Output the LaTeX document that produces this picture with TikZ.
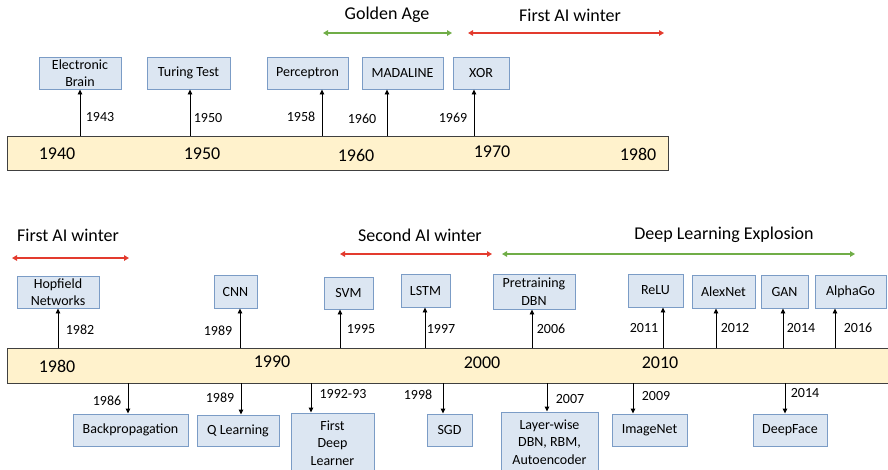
\documentclass[tikz,border=0pt]{standalone}
\usepackage{fontspec}
\setmainfont{Carlito}
\usetikzlibrary{arrows.meta}
\definecolor{boxfill}{HTML}{DCE6F2}
\definecolor{boxline}{HTML}{7B9CC6}
\definecolor{barfill}{HTML}{FFF2CC}
\definecolor{barline}{HTML}{404040}
\definecolor{agreen}{HTML}{70AD47}
\definecolor{ared}{HTML}{E33B2E}
\tikzset{
  evbox/.style={draw=boxline, fill=boxfill, line width=0.9pt, align=center, inner sep=1pt,
    font=\fontsize{14}{17.5}\selectfont, minimum height=32pt},
  barbox/.style={draw=barline, fill=barfill, line width=0.9pt, inner sep=0pt},
  baryear/.style={font=\fontsize{18}{20}\selectfont, inner sep=0pt},
  yr/.style={font=\fontsize{14}{16}\selectfont, inner sep=0pt},
  period/.style={font=\fontsize{18}{20}\selectfont, inner sep=0pt},
  evarr/.style={line width=0.9pt, -{Triangle[width=4.5pt,length=5pt]}},
  span/.style={line width=1.6pt, {Triangle[width=5.5pt,length=5pt]}-{Triangle[width=5.5pt,length=5pt]}},
}
\begin{document}
\begin{tikzpicture}[x=1pt,y=-1pt]
\useasboundingbox (0,0) rectangle (888,469);
\clip (0,0) rectangle (888,469);
% ---------- Row 1 ----------
\node[barbox, minimum width=661pt, minimum height=34pt] (bar1) at (337.5,153) {};
\node[baryear] (y1940) at (57,154) {1940};
\node[baryear] (y1950) at (202,154) {1950};
\node[baryear] (y1960) at (356,155) {1960};
\node[baryear] (y1970) at (492,152) {1970};
\node[baryear] (y1980a) at (638,154) {1980};

\node[evbox, minimum width=82pt] (eb) at (80,73) {Electronic\\Brain};
\node[evbox, minimum width=83pt] (tt) at (188.5,73) {Turing Test};
\node[evbox, minimum width=81pt] (pc) at (307.5,73) {Perceptron};
\node[evbox, minimum width=81pt] (md) at (402.5,73) {MADALINE};
\node[evbox, minimum width=56pt] (xo) at (481,73) {XOR};

\draw[evarr] (bar1.north -| 80,0) -- (eb.south -| 80,0);
\draw[evarr] (bar1.north -| 190,0) -- (tt.south -| 190,0);
\draw[evarr] (bar1.north -| 322,0) -- (pc.south -| 322,0);
\draw[evarr] (bar1.north -| 387,0) -- (md.south -| 387,0);
\draw[evarr] (bar1.north -| 474,0) -- (xo.south -| 474,0);

\node[yr] (l1943) at (100,117) {1943};
\node[yr] (l1950) at (208,118) {1950};
\node[yr] (l1958) at (301,117) {1958};
\node[yr] (l1960) at (362,119) {1960};
\node[yr] (l1969) at (453,118) {1969};

\coordinate (ga1) at (323,33);
\coordinate (ga2) at (452,33);
\draw[span, agreen] (ga1) -- (ga2);
\node[period] (gat) at (387,15) {Golden Age};
\coordinate (fw1) at (468,33);
\coordinate (fw2) at (664,33);
\draw[span, ared] (fw1) -- (fw2);
\node[period] (fwt) at (570,15) {First AI winter};

% ---------- Row 2 ----------
\node[barbox, minimum width=893pt, minimum height=35pt] (bar2) at (453.5,365.5) {};
\node[baryear] (y1980) at (57,366) {1980};
\node[baryear] (y1990) at (272,362) {1990};
\node[baryear] (y2000) at (482,363) {2000};
\node[baryear] (y2010) at (660,363) {2010};

% top events
\node[evbox, minimum width=82pt] (hn) at (58,292) {Hopfield\\Networks};
\node[evbox, minimum width=43pt, minimum height=33pt] (cnn) at (235.5,291.5) {CNN};
\node[evbox, minimum width=49pt] (svm) at (348.5,293) {SVM};
\node[evbox, minimum width=49pt, minimum height=33pt] (lstm) at (425.5,290.5) {LSTM};
\node[evbox, minimum width=82pt, minimum height=35pt] (pdbn) at (534,291.5) {Pretraining\\DBN};
\node[evbox, minimum width=55pt, minimum height=33pt] (relu) at (655.5,290.5) {ReLU};
\node[evbox, minimum width=63pt, minimum height=33pt] (alex) at (723.5,291.5) {AlexNet};
\node[evbox, minimum width=47pt, minimum height=33pt] (gan) at (784.5,291.5) {GAN};
\node[evbox, minimum width=71pt, minimum height=33pt] (alpha) at (850.5,291.5) {AlphaGo};

\draw[evarr] (bar2.north -| 58,0) -- (hn.south -| 58,0);
\draw[evarr] (bar2.north -| 240,0) -- (cnn.south -| 240,0);
\draw[evarr] (bar2.north -| 340,0) -- (svm.south -| 340,0);
\draw[evarr] (bar2.north -| 425,0) -- (lstm.south -| 425,0);
\draw[evarr] (bar2.north -| 532,0) -- (pdbn.south -| 532,0);
\draw[evarr] (bar2.north -| 663,0) -- (relu.south -| 663,0);
\draw[evarr] (bar2.north -| 716,0) -- (alex.south -| 716,0);
\draw[evarr] (bar2.north -| 783,0) -- (gan.south -| 783,0);
\draw[evarr] (bar2.north -| 835,0) -- (alpha.south -| 835,0);

\node[yr] (l1982) at (80,330) {1982};
\node[yr] (l1989a) at (218,331) {1989};
\node[yr] (l1995) at (361,329) {1995};
\node[yr] (l1997) at (441,329) {1997};
\node[yr] (l2006) at (551,329) {2006};
\node[yr] (l2011) at (644,328) {2011};
\node[yr] (l2012) at (735,328) {2012};
\node[yr] (l2014a) at (801,328) {2014};
\node[yr] (l2016) at (858,328) {2016};

% bottom events
\node[evbox, minimum width=115pt] (bp) at (130.5,430) {Backpropagation};
\node[evbox, minimum width=82pt, minimum height=31pt] (ql) at (238,430.5) {Q Learning};
\node[evbox, minimum width=83pt, minimum height=60pt] (fdl) at (332.5,443) {First\\Deep\\Learner};
\node[evbox, minimum width=45pt] (sgd) at (449.5,430) {SGD};
\node[evbox, minimum width=97pt, minimum height=60pt] (lw) at (549.5,442) {Layer-wise\\DBN, RBM,\\Autoencoder};
\node[evbox, minimum width=75pt] (img) at (649.5,430) {ImageNet};
\node[evbox, minimum width=74pt] (df) at (790,430) {DeepFace};

\draw[evarr] (bar2.south -| 128,0) -- (bp.north -| 128,0);
\draw[evarr] (bar2.south -| 241,0) -- (ql.north -| 241,0);
\draw[evarr] (bar2.south -| 311,0) -- (fdl.north -| 311,0);
\draw[evarr] (bar2.south -| 443,0) -- (sgd.north -| 443,0);
\draw[evarr] (bar2.south -| 547,0) -- (lw.north -| 547,0);
\draw[evarr] (bar2.south -| 633,0) -- (img.north -| 633,0);
\draw[evarr] (bar2.south -| 785,0) -- (df.north -| 785,0);

\node[yr] (l1986) at (107,401) {1986};
\node[yr] (l1989b) at (220,398) {1989};
\node[yr] (l1992) at (343,394) {1992-93};
\node[yr] (l1998) at (418,395) {1998};
\node[yr] (l2007) at (570,399) {2007};
\node[yr] (l2009) at (656,396) {2009};
\node[yr] (l2014b) at (805,393) {2014};

% periods
\coordinate (fa1) at (12,258);
\coordinate (fa2) at (129,258);
\draw[span, ared] (fa1) -- (fa2);
\node[period] (fat) at (68,235) {First AI winter};
\coordinate (sa1) at (340,254);
\coordinate (sa2) at (492,254);
\draw[span, ared] (sa1) -- (sa2);
\node[period] (sat) at (420,235) {Second AI winter};
\coordinate (dl1) at (502,254);
\coordinate (dl2) at (855,254);
\draw[span, agreen] (dl1) -- (dl2);
\node[period] (dlt) at (724,235) {Deep Learning Explosion};
\end{tikzpicture}
\end{document}
